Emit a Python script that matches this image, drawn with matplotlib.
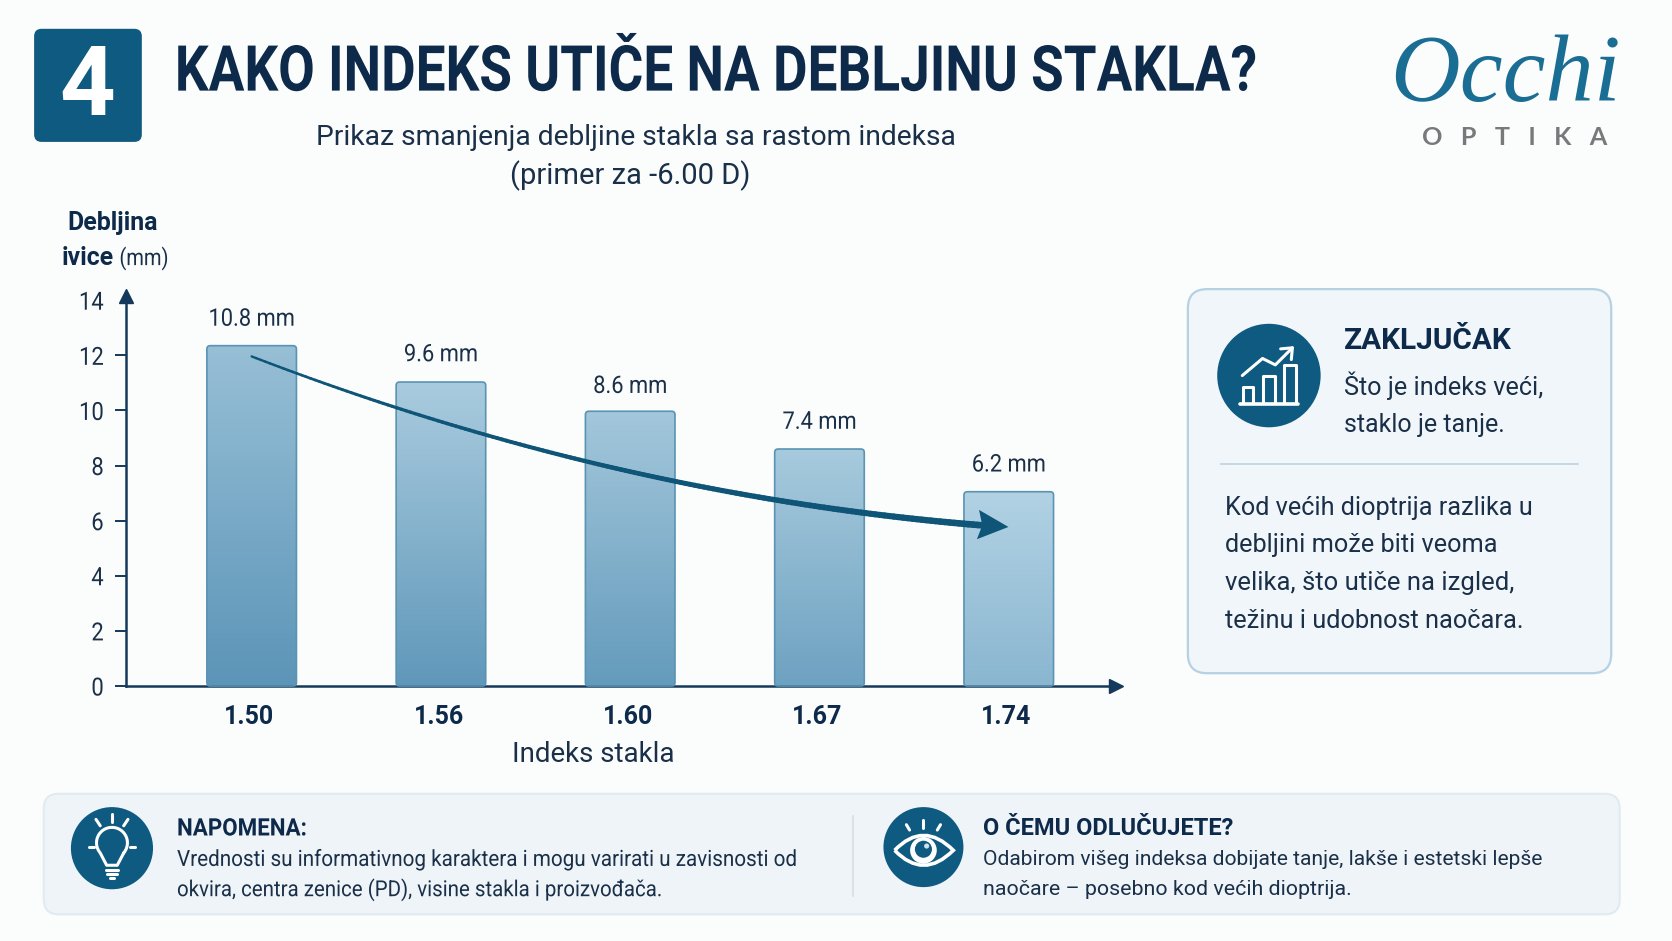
import numpy as np
import matplotlib
matplotlib.use("Agg")
import matplotlib.pyplot as plt
from matplotlib.patches import FancyBboxPatch, Circle, PathPatch, Polygon
from matplotlib.path import Path
from matplotlib.collections import LineCollection
from matplotlib.colors import LinearSegmentedColormap
from matplotlib.patheffects import AbstractPathEffect
from matplotlib.transforms import Affine2D, Bbox

# ---------- data ----------
indices = ["1.50", "1.56", "1.60", "1.67", "1.74"]
bar_heights = [12.35, 11.03, 9.97, 8.6, 7.05]
value_labels = ["10.8 mm", "9.6 mm", "8.6 mm", "7.4 mm", "6.2 mm"]
label_heights = [13.31, 12.02, 10.87, 9.57, 8.02]
y_ticks = [0, 2, 4, 6, 8, 10, 12, 14]
trend_start = (0.0, 11.96)
trend_ctrl = (1.90, 6.93)
trend_end = (3.86, 5.83)
bar_top_colors = ["#97bfd6", "#a9cbde", "#a3c7db", "#a7cadd", "#b2d2e4"]
bar_bot_colors = ["#5c95b8", "#6098ba", "#649bbc", "#6ea2c1", "#8ab6d0"]

NAVY = "#0d2a4a"
TEAL = "#0f5a80"
BG = "#fbfcfc"
SANS = "Roboto"
PX = 1672 / 1568

fig = plt.figure(figsize=(16.72, 9.41), dpi=100, facecolor=BG)
ov = fig.add_axes([0, 0, 1, 1], zorder=0)
ov.set_xlim(0, 1568); ov.set_ylim(882, 0); ov.axis("off")
renderer = fig.canvas.get_renderer()


class Squeeze(AbstractPathEffect):
    """Narrow a text horizontally about a pixel column (no condensed font is installed)."""

    def __init__(self, sx, x_px):
        super().__init__()
        self.sx, self.x_px = sx, x_px

    def draw_path(self, renderer, gc, tpath, affine, rgbFace=None):
        tr = affine + Affine2D().translate(-self.x_px, 0).scale(self.sx, 1).translate(self.x_px, 0)
        renderer.draw_path(gc, tpath, tr, rgbFace)


def squeeze_text(t, sx, x_px):
    """Apply the squeeze and make the text report the box it really occupies."""
    t.set_path_effects([Squeeze(sx, x_px)])
    plain = t.get_window_extent

    def extent(renderer=None, dpi=None):
        b = plain(renderer, dpi)
        return Bbox([[x_px + (b.x0 - x_px) * sx, b.y0], [x_px + (b.x1 - x_px) * sx, b.y1]])

    t.get_window_extent = extent


def T(x, y, s, width=None, size=16, weight="normal", color=NAVY, ha="left", family=SANS, final=None,
      tall=None, between=None, **kw):
    """Text fitted to a width; `final` or `tall` gives taller glyphs squeezed back to that width.
    `between` centres the unsqueezed layout box between two columns, keeping the drawn glyphs at x."""
    t = ov.text(x, y, s, fontsize=size, fontweight=weight, color=color, ha=ha, va="center",
                family=family, **kw)
    if width is not None:
        ext = t.get_window_extent(renderer)
        fit = size * width * PX / ext.width
        end = final if final else fit * (tall or 1.0)
        t.set_fontsize(end)
        if abs(end - fit) > 1e-6:
            sx = fit / end
            anchor = x
            if between is not None:
                full = width / sx
                box_left = sum(between) / 2 - full / 2
                t.set_x(box_left)
                anchor = (x - box_left * sx) / (1 - sx)
            squeeze_text(t, sx, anchor * PX)
    return t


def rbox(x0, y0, x1, y1, r, fc, ec="none", lw=1.0, z=1):
    p = FancyBboxPatch((x0 + r, y0 + r), x1 - x0 - 2 * r, y1 - y0 - 2 * r,
                       boxstyle=f"round,pad={r},rounding_size={r}", fc=fc, ec=ec, lw=lw, zorder=z)
    ov.add_patch(p)
    return p


def L(xs, ys, lw=2.0, color="white", z=5):
    ov.plot(xs, ys, color=color, lw=lw, solid_capstyle="round", solid_joinstyle="round", zorder=z)


# ---------- header ----------
rbox(32, 27, 133, 133, 7, TEAL)
T(82, 83, "4", size=70, weight="bold", color="white", ha="center", zorder=3)
T(164, 69, "KAKO INDEKS UTIČE NA DEBLJINU STAKLA?", width=1014, size=40, weight="bold", final=45.6,
  between=(110, 1304))
T(596, 129, "Prikaz smanjenja debljine stakla sa rastom indeksa", width=598, size=20, ha="center",
  color="#1a2f48")
T(591, 165, "(primer za -6.00 D)", width=225, size=20, ha="center", color="#1a2f48")

# logo
T(1304, 73, "Occhi", width=216, size=70, family="Liberation Serif", style="italic", color="#1a6e94")
T(1420, 129, "O   P   T   I   K   A", width=174, size=16, weight="bold", color="#77797b", ha="center",
  family="Lato")

# ---------- y label ----------
T(106, 209, "Debljina", width=85, size=16, weight="bold", ha="center")
T(58, 242, "ivice", width=49, size=16, weight="bold")
T(112, 242, "(mm)", width=46, size=15, color="#1a2f48", tall=1.15)

# ---------- chart ----------
X_UNIT, Y_UNIT = 177.5, 25.83
left, right, bottom, top = 118, 1047, 643, 277
ax = fig.add_axes([left / 1568, 1 - bottom / 882, (right - left) / 1568, (bottom - top) / 882], zorder=2)
ax.patch.set_alpha(0)
xlim = ((left - 236) / X_UNIT, (right - 236) / X_UNIT)
ylim = (0, (bottom - top) / Y_UNIT)
pos = np.arange(len(indices))
bars = ax.bar(pos, bar_heights, width=84 / X_UNIT, color="none", edgecolor="none")
for b, ct, cb in zip(bars, bar_top_colors, bar_bot_colors):
    x0, w, h = b.get_x(), b.get_width(), b.get_height()
    rnd = 0.018
    patch = FancyBboxPatch((x0, 0), w, h, boxstyle=f"round,pad=0,rounding_size={rnd}",
                           mutation_aspect=X_UNIT / Y_UNIT, fc="none", ec="#5a93b3", lw=1.2, zorder=3,
                           clip_on=False)
    ax.add_patch(patch)
    cmap = LinearSegmentedColormap.from_list("g", [cb, ct])
    im = ax.imshow(np.linspace(0, 1, 128)[:, None], extent=(x0, x0 + w, 0, h), origin="lower",
                   aspect="auto", cmap=cmap, zorder=2)
    im.set_clip_path(patch)
ax.set_xlim(*xlim); ax.set_ylim(*ylim)

for p, lab, ly in zip(pos, value_labels, label_heights):
    tx = ax.text(p, ly, lab, ha="center", va="center", fontsize=17.5, color="#1a2f48", family=SANS)
    squeeze_text(tx, 0.90, (236 + p * X_UNIT) * PX)

ax.set_xticks(pos - 0.012, indices, fontsize=18, fontweight="bold", color=NAVY, family=SANS)
ax.set_yticks(y_ticks, [str(v) for v in y_ticks], fontsize=18, color="#1a2f48", family=SANS)
for lab in ax.get_yticklabels():
    lab.set_path_effects([Squeeze(0.88, 97 * PX)])
ax.tick_params(axis="x", length=0, pad=14)
ax.tick_params(axis="y", length=7.7, width=1.4, color="#15395a", pad=8.2)
ax.yaxis.get_major_ticks()[-1].tick1line.set_visible(False)
ax.set_xlabel("Indeks stakla", fontsize=20, color="#1a2f48", family=SANS, va="center")
ax.xaxis.set_label_coords((556 - left) / (right - left), -(707 - bottom) / (bottom - top))
for s in ("top", "right"):
    ax.spines[s].set_visible(False)
for s in ("left", "bottom"):
    ax.spines[s].set_color("#15395a"); ax.spines[s].set_linewidth(1.8)
ax.plot(1, 0, ">", transform=ax.transAxes, color="#15395a", ms=10, clip_on=False, zorder=6)
ax.plot(0, 1, "^", transform=ax.transAxes, color="#15395a", ms=10, clip_on=False, zorder=6)

# trend arrow (tapered quadratic curve with a notched head)
t = np.linspace(0, 1, 160)[:, None]
P0, P1, P2 = map(np.array, (trend_start, trend_ctrl, trend_end))
curve = (1 - t) ** 2 * P0 + 2 * (1 - t) * t * P1 + t ** 2 * P2
segs = np.stack([curve[:-1], curve[1:]], axis=1)
widths = 1.7 + 3.1 * t[:-1, 0]
ax.add_collection(LineCollection(segs, colors="#0f5578", linewidths=widths, zorder=5, capstyle="round"))
tip = np.array(trend_end)
head = tip + np.array([(a / X_UNIT, -b / Y_UNIT) for a, b in ((24.6, 1.5), (-3, -14.5), (0, 0), (-5, 13))])
ax.add_patch(Polygon(head, closed=True, fc="#0f5578", ec="none", zorder=6, clip_on=False))

# ---------- conclusion card ----------
rbox(1114, 271, 1511, 631, 18, "#f1f6fa", ec="#b5d1e3", lw=1.6)
ov.add_patch(Circle((1190, 352), 48.5, fc=TEAL, ec="none", zorder=3))
for x0, x1, y0 in ((1166, 1175, 363), (1184, 1196, 352), (1204, 1215, 342)):
    L([x0, x0, x1, x1], [378, y0, y0, 378], lw=2.2)
L([1163, 1217], [379, 379], lw=2.6)
L([1165, 1184, 1196, 1212], [352, 336, 342, 326], lw=2.2)
L([1201, 1212, 1211], [327, 326, 337], lw=2.2)
T(1260, 320, "ZAKLJUČAK", width=157, size=20, weight="bold")
T(1260, 362, "Što je indeks veći,", width=187, size=18, color="#1a2f48")
T(1260, 398, "staklo je tanje.", width=151, size=18, color="#1a2f48")
ov.plot([1145, 1480], [435, 435], color="#bdd3e0", lw=1.2, zorder=3)
para = [("Kod većih dioptrija razlika u", 476, 289), ("debljini može biti veoma", 511, 255),
        ("velika, što utiče na izgled,", 546, 270), ("težinu i udobnost naočara.", 582, 280)]
for s, y, w in para:
    T(1149, y, s, width=w, size=18, color="#1a2f48")

# ---------- bottom band ----------
rbox(41, 744, 1519, 857, 14, "#eef4f8", ec="#e0eaf0", lw=1.4)
ov.plot([800, 800], [765, 840], color="#d3dfe7", lw=1.2, zorder=3)
ov.add_patch(Circle((105, 795), 38.5, fc=TEAL, ec="none", zorder=3))
ov.add_patch(Circle((866, 794), 37.5, fc=TEAL, ec="none", zorder=3))

# bulb icon
th = np.radians(np.linspace(-40, 220, 60))
bx = np.r_[105 + 14.5 * np.cos(th), 100, 110, 105 + 14.5 * np.cos(th[0])]
by = np.r_[790 - 14.5 * np.sin(th), 811, 811, 790 - 14.5 * np.sin(th[0])]
L(bx, by, lw=2.2)
L([99, 111], [815, 815], lw=2.2); L([100, 110], [819, 819], lw=2.2); L([103, 107], [823, 823], lw=2.2)
L([105, 105], [763, 770], lw=2.2); L([90, 94], [768, 774], lw=2.2); L([120, 116], [768, 774], lw=2.2)
L([83, 88], [794, 794], lw=2.2); L([122, 127], [794, 794], lw=2.2)

# eye icon
eye = Path([(839, 797), (866, 769), (894, 797), (866, 825), (839, 797)],
           [Path.MOVETO, Path.CURVE3, Path.CURVE3, Path.CURVE3, Path.CURVE3])
ov.add_patch(PathPatch(eye, fc="none", ec="white", lw=2.6, zorder=5))
ov.add_patch(Circle((866, 797), 12.5, fc="white", ec="none", zorder=5))
ov.add_patch(Circle((866, 796), 8, fc=TEAL, ec="none", zorder=6))
ov.add_patch(Circle((869, 793), 2.4, fc="#cfe2ec", ec="none", zorder=7))
L([866, 866], [769, 776], lw=2.2); L([850, 853], [773, 778], lw=2.2); L([882, 879], [773, 778], lw=2.2)

T(166, 777, "NAPOMENA:", width=122, size=15, weight="bold", tall=1.08)
T(166, 806, "Vrednosti su informativnog karaktera i mogu varirati u zavisnosti od", width=582, size=15,
  color="#1a2f48", tall=1.08)
T(166, 834, "okvira, centra zenice (PD), visine stakla i proizvođača.", width=456, size=15, color="#1a2f48",
  tall=1.08)
T(922, 777, "O ČEMU ODLUČUJETE?", width=235, size=15, weight="bold")
T(922, 806, "Odabirom višeg indeksa dobijate tanje, lakše i estetski lepše", width=526, size=15,
  color="#1a2f48")
T(922, 834, "naočare – posebno kod većih dioptrija.", width=346, size=15, color="#1a2f48")

fig.savefig("out.png", dpi=100, facecolor=BG)
